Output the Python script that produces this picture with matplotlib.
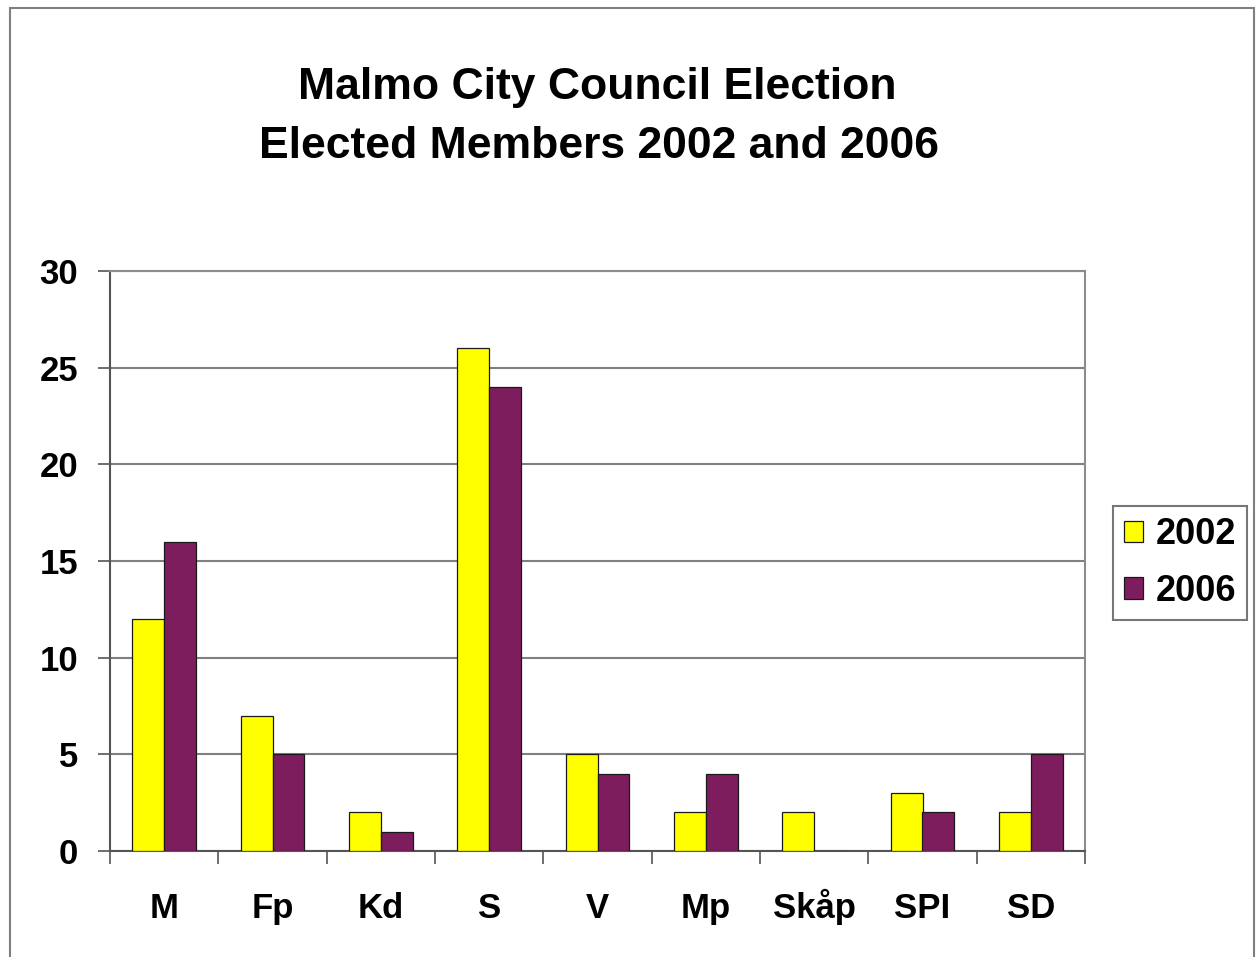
import matplotlib
matplotlib.use("Agg")
import matplotlib.pyplot as plt
import numpy as np
from matplotlib.patches import Rectangle

parties = ["M", "Fp", "Kd", "S", "V", "Mp", "Skåp", "SPI", "SD"]
seats_2002 = [12, 7, 2, 26, 5, 2, 2, 3, 2]
seats_2006 = [16, 5, 1, 24, 4, 4, 0, 2, 5]
yticks = [0, 5, 10, 15, 20, 25, 30]

plt.rcParams['font.family'] = ['Liberation Sans', 'DejaVu Sans']
plt.rcParams['font.weight'] = 'bold'

W, H = 1256, 957
fig = plt.figure(figsize=(W/100, H/100), dpi=100)
fig.patch.set_facecolor('white')

# outer chart border
fig.patches.append(Rectangle((10/W, -0.02), (1254-10)/W, 1 - 8/H + 0.02,
                             transform=fig.transFigure, fill=False,
                             edgecolor='#7f7f7f', linewidth=1.5))

ax = fig.add_axes([110/W, (H-851)/H, (1085-110)/W, (851-271)/H])
x = np.arange(len(parties))
bw = 0.295
ax.bar(x - bw/2, seats_2002, bw, color='#FFFF00', edgecolor='#1a1a1a', linewidth=0.9, label='2002', zorder=3)
ax.bar(x + bw/2, seats_2006, bw, color='#7E1D5E', edgecolor='#1a1a1a', linewidth=0.9, label='2006', zorder=3)

ax.set_xlim(-0.5, len(parties) - 0.5)
ax.set_ylim(0, 30)
ax.set_yticks(yticks)
ax.set_yticklabels([str(t) for t in yticks], fontsize=25, fontweight='bold')
ax.set_xticks(x)
ax.set_xticklabels(parties, fontsize=25, fontweight='bold', va='baseline')
ax.set_xticks(np.arange(len(parties) + 1) - 0.5, minor=True)
ax.tick_params(axis='x', which='major', length=0, pad=48.5)
ax.tick_params(axis='x', which='minor', length=9, width=1.2, color='#555555', direction='out')
ax.tick_params(axis='y', length=9, width=1.2, color='#555555', direction='out', pad=14)
ax.yaxis.grid(True, color='#808080', linewidth=1.5, zorder=0)
ax.set_axisbelow(True)
for side in ['top', 'right']:
    ax.spines[side].set_color('#8c8c8c')
    ax.spines[side].set_linewidth(1.5)
for side in ['left', 'bottom']:
    ax.spines[side].set_color('#555555')
    ax.spines[side].set_linewidth(1.5)

fig.text(597/W, 1 - 99/H, "Malmo City Council Election",
         ha='center', va='baseline', fontsize=32, fontweight='bold')
fig.text(599/W, 1 - 158/H, "Elected Members 2002 and 2006",
         ha='center', va='baseline', fontsize=32, fontweight='bold')

leg = fig.legend(loc='center', bbox_to_anchor=(1180/W, 1 - 563/H), fontsize=26,
                 frameon=True, fancybox=False, edgecolor='#555555',
                 handlelength=0.55, handleheight=0.55, handletextpad=0.35,
                 borderpad=0.3, labelspacing=0.6, borderaxespad=0)
leg.get_frame().set_linewidth(1.5)
for t in leg.get_texts():
    t.set_fontweight('bold')

fig.savefig("out.png", dpi=100, facecolor='white')
